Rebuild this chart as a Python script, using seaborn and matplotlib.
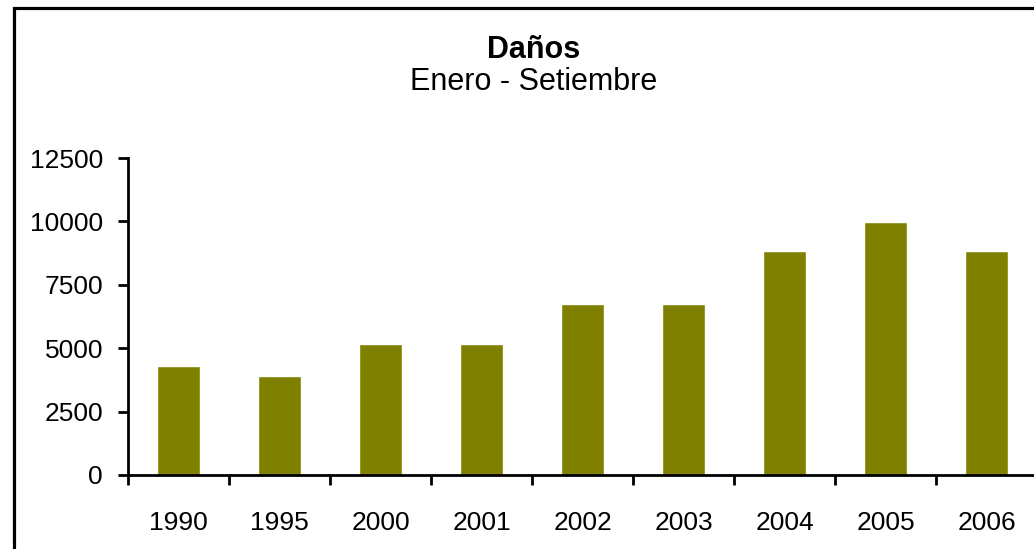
import numpy as np
import pandas as pd
import seaborn as sns
import matplotlib.pyplot as plt
from matplotlib.patches import Rectangle

# Data
years = ['1990', '1995', '2000', '2001', '2002', '2003', '2004', '2005', '2006']
danos = [4300, 3900, 5150, 5150, 6750, 6750, 8830, 9980, 8830]
y_ticks = [0, 2500, 5000, 7500, 10000, 12500]

title = 'Daños'
subtitle = 'Enero - Setiembre'

sns.set_style('white')
plt.rcParams['font.family'] = ['Liberation Sans', 'DejaVu Sans']
plt.rcParams['text.color'] = 'black'
plt.rcParams['xtick.color'] = 'black'
plt.rcParams['ytick.color'] = 'black'
plt.rcParams['xtick.labelcolor'] = 'black'
plt.rcParams['ytick.labelcolor'] = 'black'

df = pd.DataFrame({'year': years, 'value': danos})

fig = plt.figure(figsize=(10.34, 5.49), dpi=100)
ax = fig.add_axes([0.1238, 0.1348, 0.8792, 0.5774])

sns.barplot(data=df, x='year', y='value', color='#808000', saturation=1,
            width=0.42, ax=ax)

ax.set_xlim(-0.5, len(years) - 0.5)
ax.set_ylim(0, 12500)
ax.set_yticks(y_ticks)
ax.set_yticklabels([str(t) for t in y_ticks], fontsize=19, color='black')

# ticks between categories, labels centred under bars
ax.set_xticks(np.arange(-0.5, len(years), 1))
ax.set_xticklabels([])
ax.set_xticks(np.arange(len(years)), minor=True)
ax.set_xticklabels(years, minor=True, fontsize=19, color='black')
ax.tick_params(axis='x', which='major', direction='out', length=7, width=2,
               color='black', bottom=True)
ax.tick_params(axis='x', which='minor', length=0, pad=26)
ax.tick_params(axis='y', direction='out', length=7, width=2, color='black',
               left=True, pad=11)

ax.set_xlabel('')
ax.set_ylabel('')
for side in ['top', 'right']:
    ax.spines[side].set_visible(False)
for side in ['left', 'bottom']:
    ax.spines[side].set_color('black')
    ax.spines[side].set_linewidth(2)
ax.grid(False)

fig.text(0.5165, 0.894, title, ha='center', va='baseline', fontsize=22,
         fontweight='bold', color='black')
fig.text(0.5165, 0.836, subtitle, ha='center', va='baseline', fontsize=22,
         color='black')

# chart frame (right and bottom edges fall outside the picture)
fig.patches.append(Rectangle((14 / 1034, -0.2), 1.2, 0.2 + (549 - 8) / 549,
                             transform=fig.transFigure, fill=False,
                             edgecolor='black', linewidth=2.3))

fig.savefig('out.png', dpi=100)
plt.close(fig)
